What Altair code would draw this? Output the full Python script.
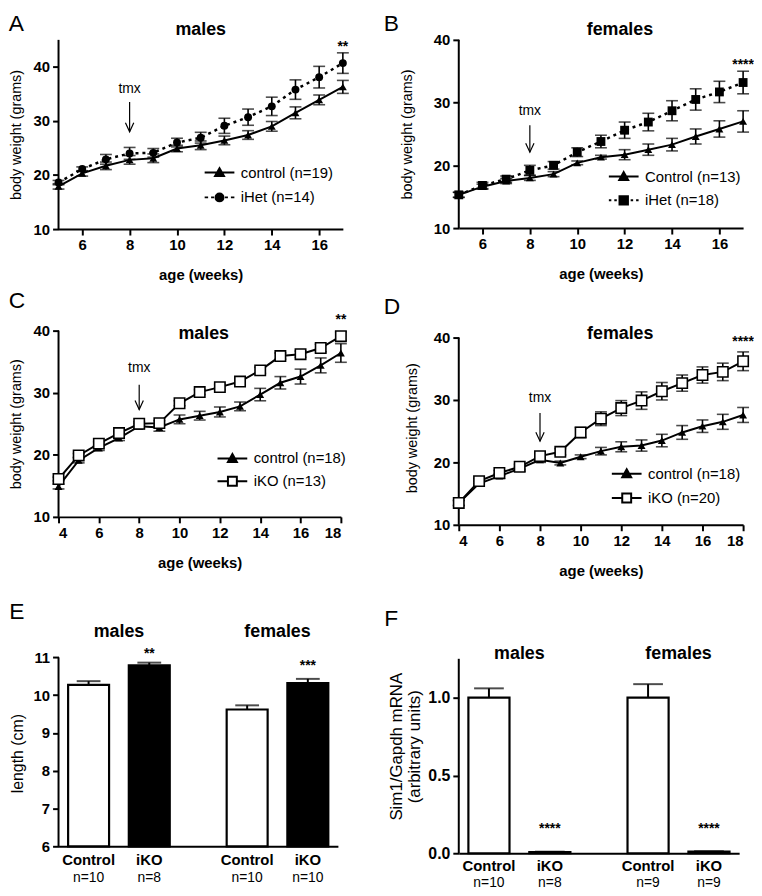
import altair as alt
import pandas as pd

FONT = "Liberation Sans"

# ---------------- Panel A : males, control vs iHet ----------------
A_WEEKS = list(range(5, 18))
A_CONTROL = [17.9, 20.3, 21.7, 22.8, 23.1, 24.9, 25.5, 26.4, 27.4, 29.0, 31.5, 33.9, 36.3]
A_CONTROL_SEM = [0.5, 0.5, 0.7, 0.8, 0.8, 0.6, 0.8, 0.8, 0.8, 0.9, 1.1, 0.9, 1.2]
A_IHET = [18.6, 21.1, 22.9, 24.0, 24.1, 26.0, 26.9, 29.1, 30.7, 32.7, 35.8, 38.1, 40.7]
A_IHET_SEM = [0.4, 0.4, 0.9, 1.1, 0.8, 0.8, 1.0, 1.4, 1.5, 1.7, 1.8, 2.0, 1.9]
A_GROUPS = ["control (n=19)", "iHet (n=14)"]

# ---------------- Panel B : females, control vs iHet ----------------
B_WEEKS = list(range(5, 18))
B_CONTROL = [15.3, 16.6, 17.5, 18.0, 18.6, 20.4, 21.3, 21.7, 22.5, 23.3, 24.6, 25.8, 27.0]
B_CONTROL_SEM = [0.4, 0.4, 0.4, 0.4, 0.4, 0.3, 0.3, 0.8, 0.9, 1.0, 1.2, 1.3, 1.7]
B_IHET = [15.3, 16.8, 17.8, 19.2, 20.0, 22.1, 23.8, 25.6, 26.9, 28.7, 30.5, 31.7, 33.2]
B_IHET_SEM = [0.4, 0.5, 0.5, 0.8, 0.6, 0.7, 1.0, 1.3, 1.4, 1.6, 1.7, 1.7, 1.8]
B_GROUPS = ["Control (n=13)", "iHet (n=18)"]

# ---------------- Panel C : males, control vs iKO ----------------
C_WEEKS = list(range(4, 19))
C_CONTROL = [14.9, 19.1, 21.1, 22.7, 24.6, 24.4, 25.7, 26.3, 26.9, 27.8, 29.7, 31.6, 32.6, 34.4, 36.4]
C_CONTROL_SEM = [0.4, 0.4, 0.4, 0.4, 0.4, 0.6, 0.7, 0.7, 0.8, 0.7, 1.0, 1.0, 1.2, 1.2, 1.5]
C_IKO = [16.1, 19.9, 21.8, 23.5, 25.0, 25.1, 28.3, 30.1, 30.9, 31.8, 33.6, 35.9, 36.2, 37.2, 39.1]
C_IKO_SEM = [0.3, 0.3, 0.3, 0.3, 0.3, 0.4, 0.4, 0.4, 0.4, 0.5, 0.5, 0.5, 0.5, 0.6, 0.7]
C_GROUPS = ["control (n=18)", "iKO (n=13)"]

# ---------------- Panel D : females, control vs iKO ----------------
D_WEEKS = list(range(4, 19))
D_CONTROL = [13.5, 16.6, 17.8, 19.0, 20.4, 19.9, 20.9, 21.8, 22.5, 22.7, 23.5, 24.8, 25.8, 26.5, 27.6]
D_CONTROL_SEM = [0.4, 0.4, 0.4, 0.4, 0.4, 0.3, 0.3, 0.6, 0.8, 0.9, 1.0, 1.1, 1.0, 1.2, 1.2]
D_IKO = [13.5, 17.0, 18.3, 19.3, 21.0, 21.7, 24.8, 27.0, 28.7, 29.9, 31.4, 32.7, 34.0, 34.5, 36.2]
D_IKO_SEM = [0.4, 0.4, 0.4, 0.4, 0.5, 0.5, 0.8, 1.1, 1.2, 1.4, 1.4, 1.3, 1.3, 1.4, 1.5]
D_GROUPS = ["control (n=18)", "iKO (n=20)"]

# ---------------- Panels E and F : bar charts ----------------
BAR_SEX = ["males", "males", "females", "females"]
BAR_GENO = ["Control", "iKO", "Control", "iKO"]
E_N = ["n=10", "n=8", "n=10", "n=10"]
E_LENGTH = [10.27, 10.79, 9.62, 10.32]
E_SEM = [0.10, 0.07, 0.11, 0.11]
E_STARS = ["", "**", "", "***"]
F_N = ["n=10", "n=8", "n=9", "n=9"]
F_MRNA = [1.0, 0.008, 1.0, 0.010]
F_SEM = [0.06, 0.002, 0.087, 0.003]
F_STARS = ["", "****", "", "****"]

# annotation placements (data coordinates)
E_STAR_Y = [0, 10.97, 0, 10.66]
F_STAR_Y = [0, 0.13, 0, 0.13]

# ---------------- glyphs ----------------
LEG_TRIANGLE = "M-3,0L3,0M0,-0.9L0.9,0.7L-0.9,0.7Z"
LEG_DASH_CIRCLE = ("M-3,0L-2.3,0M-1.7,0L-1.1,0M1.1,0L1.7,0M2.3,0L3,0"
                   "M0.8,0A0.8,0.8,0,1,1,-0.8,0A0.8,0.8,0,1,1,0.8,0Z")
LEG_DOT_SQUARE = ("M-3,0L-2.5,0M-1.9,0L-1.4,0M1.4,0L1.9,0M2.5,0L3,0"
                  "M-0.85,-0.85L0.85,-0.85L0.85,0.85L-0.85,0.85Z")
LEG_OPEN_SQUARE = "M-3,0L-0.9,0M0.9,0L3,0M-0.9,-0.9L0.9,-0.9L0.9,0.9L-0.9,0.9Z"
ARROW_HEAD = "M-0.6,-1.3L0,0L0.6,-1.3"


def series_frame(weeks, values, sems, group):
    return pd.DataFrame({
        "week": weeks,
        "value": values,
        "lo": [v - s for v, s in zip(values, sems)],
        "hi": [v + s for v, s in zip(values, sems)],
        "group": group,
    })


def letter_title(letter, dx, dy):
    return alt.Title(letter, anchor="start", frame="bounds", fontSize=23, fontWeight="normal",
                     font=FONT, color="black", baseline="alphabetic", offset=0, dx=dx, dy=dy)


def growth_panel(letter, ldx, ldy, weeks, ctrl, ctrl_sem, exp, exp_sem, groups,
                 exp_mark, exp_line, legend_paths, legend_fills, legend_box,
                 x_dom, x_ticks, y_dom, y_top, width, height, ytitle_pad,
                 title, title_at, stars, stars_at, tmx_at, arrow):
    d_ctrl = series_frame(weeks, ctrl, ctrl_sem, groups[0])
    d_exp = series_frame(weeks, exp, exp_sem, groups[1])

    x_axis = alt.Axis(values=x_ticks, title="age (weeks)", titlePadding=15)
    y_axis = alt.Axis(values=[10, 20, 30, 40], title="body weight (grams)", domain=False,
                      titlePadding=ytitle_pad)
    xs = alt.Scale(domain=x_dom, nice=False, zero=False)
    ys = alt.Scale(domain=y_dom, nice=False, zero=False)

    def X(f):
        return alt.X(f, type="quantitative", scale=xs, axis=x_axis)

    def Y(f):
        return alt.Y(f, type="quantitative", scale=ys, axis=y_axis)

    layers = []
    axis_df = pd.DataFrame({"week": [x_dom[0]], "value": [y_dom[0]], "top": [y_top]})
    layers.append(alt.Chart(axis_df).mark_rule(color="black", strokeWidth=2)
                  .encode(x=X("week"), y=Y("value"), y2="top"))
    layers.append(alt.Chart(d_ctrl).mark_line(color="black", strokeWidth=2)
                  .encode(x=X("week"), y=Y("value")))
    layers.append(alt.Chart(d_exp).mark_line(color="black", **exp_line)
                  .encode(x=X("week"), y=Y("value")))
    for d in (d_ctrl, d_exp):
        layers.append(alt.Chart(d).mark_rule(color="black", strokeWidth=1.6)
                      .encode(x=X("week"), y=Y("lo"), y2="hi"))
        for f in ("lo", "hi"):
            layers.append(alt.Chart(d).mark_tick(color="black", orient="horizontal", size=12,
                                                 thickness=1.6)
                          .encode(x=X("week"), y=Y(f)))
    layers.append(alt.Chart(d_ctrl).mark_point(shape="triangle-up", filled=True, color="black",
                                               size=64, opacity=1)
                  .encode(x=X("week"), y=Y("value")))
    layers.append(alt.Chart(d_exp).mark_point(opacity=1, **exp_mark)
                  .encode(x=X("week"), y=Y("value")))

    lx, ly, rp = legend_box
    leg = alt.Legend(title=None, orient="none", legendX=lx, legendY=ly, symbolSize=100,
                     symbolStrokeWidth=2, labelOffset=14, rowPadding=rp, padding=0,
                     labelFontSize=15, labelFont=FONT, labelColor="black",
                     symbolFillColor="black", symbolStrokeColor="black")
    leg_df = pd.DataFrame({"week": [x_dom[0]] * 2, "value": [y_dom[0]] * 2, "group": groups})
    layers.append(alt.Chart(leg_df).mark_point(size=0, filled=True, stroke="black", strokeWidth=2,
                                               opacity=1)
                  .encode(x=X("week"), y=Y("value"),
                          shape=alt.Shape("group:N", scale=alt.Scale(domain=groups, range=legend_paths),
                                          legend=leg),
                          fill=alt.Fill("group:N", scale=alt.Scale(domain=groups, range=legend_fills),
                                        legend=leg)))

    title_df = pd.DataFrame({"week": [title_at[0]], "value": [title_at[1]], "t": [title]})
    layers.append(alt.Chart(title_df).mark_text(font=FONT, fontSize=18, fontWeight="bold",
                                                color="black", baseline="middle")
                  .encode(x=X("week"), y=Y("value"), text="t:N"))
    star_df = pd.DataFrame({"week": [stars_at[0]], "value": [stars_at[1]], "t": [stars]})
    layers.append(alt.Chart(star_df).mark_text(font=FONT, fontSize=14, fontWeight="bold",
                                               color="black", baseline="alphabetic")
                  .encode(x=X("week"), y=Y("value"), text="t:N"))
    tmx_df = pd.DataFrame({"week": [tmx_at[0]], "value": [tmx_at[1]], "t": ["tmx"]})
    layers.append(alt.Chart(tmx_df).mark_text(font=FONT, fontSize=14, color="black",
                                              baseline="middle")
                  .encode(x=X("week"), y=Y("value"), text="t:N"))
    arrow_df = pd.DataFrame({"week": [tmx_at[0]], "value": [arrow[1]], "top": [arrow[0]]})
    layers.append(alt.Chart(arrow_df).mark_rule(color="black", strokeWidth=1.2)
                  .encode(x=X("week"), y=Y("value"), y2="top"))
    layers.append(alt.Chart(arrow_df).mark_point(shape=ARROW_HEAD, size=196, filled=False,
                                                 color="black", strokeWidth=1.2, opacity=1)
                  .encode(x=X("week"), y=Y("value")))

    return alt.layer(*layers).properties(width=width, height=height,
                                         title=letter_title(letter, ldx, ldy))


def bar_panel(letter, ldx, ldy, values, sems, n_labels, stars, star_y, y_dom, y_top, y_ticks,
              y_fmt, y_title, y_title_size, y_label_size, ytitle_pad, ytitle_y, width, height,
              cap, title_y, geno_y, n_y):
    df = pd.DataFrame({
        "sex": BAR_SEX, "geno": BAR_GENO, "value": values,
        "hi": [v + s for v, s in zip(values, sems)],
        "base": [y_dom[0]] * 4,
    })
    xs = alt.X("sex:N", scale=alt.Scale(domain=["males", "females"], paddingInner=0.238,
                                        paddingOuter=0),
               axis=alt.Axis(labels=False, ticks=False, title=None, domain=True))
    xo = alt.XOffset("geno:N", scale=alt.Scale(domain=["Control", "iKO"], paddingInner=0.325,
                                               paddingOuter=0.158))
    y_axis = alt.Axis(values=y_ticks, format=y_fmt, title=y_title, domain=False,
                      titleFontSize=y_title_size, labelFontSize=y_label_size,
                      titlePadding=ytitle_pad, titleY=ytitle_y, titleLineHeight=19)
    ys = alt.Scale(domain=y_dom, nice=False, zero=False)

    def Y(f):
        return alt.Y(f, type="quantitative", scale=ys, axis=y_axis)

    layers = []
    axis_df = pd.DataFrame({"value": [y_dom[0]], "top": [y_top]})
    layers.append(alt.Chart(axis_df).mark_rule(color="black", strokeWidth=2)
                  .encode(x=alt.value(0), y=Y("value"), y2="top"))
    layers.append(alt.Chart(df).mark_rule(color="black", strokeWidth=2)
                  .encode(x=xs, xOffset=xo, y=Y("value"), y2="hi"))
    layers.append(alt.Chart(df).mark_tick(color="black", orient="horizontal", size=cap,
                                          thickness=2)
                  .encode(x=xs, xOffset=xo, y=Y("hi")))
    layers.append(alt.Chart(df).mark_bar(stroke="black", strokeWidth=2.2)
                  .encode(x=xs, xOffset=xo, y=Y("value"), y2="base",
                          fill=alt.Fill("geno:N", scale=alt.Scale(domain=["Control", "iKO"],
                                                                  range=["white", "black"]),
                                        legend=None)))
    star_df = pd.DataFrame({"sex": BAR_SEX, "geno": BAR_GENO, "value": star_y, "t": stars})
    layers.append(alt.Chart(star_df).transform_filter("datum.t != ''")
                  .mark_text(font=FONT, fontSize=14, fontWeight="bold", color="black",
                             baseline="alphabetic")
                  .encode(x=xs, xOffset=xo, y=Y("value"), text="t:N"))
    head_df = pd.DataFrame({"sex": ["males", "females"], "value": [title_y] * 2,
                            "t": ["males", "females"]})
    layers.append(alt.Chart(head_df).mark_text(font=FONT, fontSize=18, fontWeight="bold",
                                               color="black", baseline="middle")
                  .encode(x=xs, y=Y("value"), text="t:N"))
    geno_df = pd.DataFrame({"sex": BAR_SEX, "geno": BAR_GENO, "value": [geno_y] * 4,
                            "t": BAR_GENO})
    layers.append(alt.Chart(geno_df).mark_text(font=FONT, fontSize=15, fontWeight="bold",
                                               color="black", baseline="middle")
                  .encode(x=xs, xOffset=xo, y=Y("value"), text="t:N"))
    n_df = pd.DataFrame({"sex": BAR_SEX, "geno": BAR_GENO, "value": [n_y] * 4, "t": n_labels})
    layers.append(alt.Chart(n_df).mark_text(font=FONT, fontSize=14, color="black",
                                            baseline="middle")
                  .encode(x=xs, xOffset=xo, y=Y("value"), text="t:N"))
    return alt.layer(*layers).properties(width=width, height=height,
                                         title=letter_title(letter, ldx, ldy))


panel_a = growth_panel(
    "A", 0, 33, A_WEEKS, A_CONTROL, A_CONTROL_SEM, A_IHET, A_IHET_SEM, A_GROUPS,
    dict(shape="circle", filled=True, color="black", size=64),
    dict(strokeWidth=2.5, strokeDash=[3, 4]),
    [LEG_TRIANGLE, LEG_DASH_CIRCLE], ["black", "black"], (155, 126.5, 8),
    [5, 17], [6, 8, 10, 12, 14, 16], [10, 45], 45, 287, 191, 9.5,
    "males", (11, 46.8), "**", (17, 43.0), (8, 35.85), (33.5, 28.0))

panel_b = growth_panel(
    "B", -16, 33, B_WEEKS, B_CONTROL, B_CONTROL_SEM, B_IHET, B_IHET_SEM, B_GROUPS,
    dict(shape="square", filled=True, color="black", size=80),
    dict(strokeWidth=2.5, strokeDash=[3, 4]),
    [LEG_TRIANGLE, LEG_DOT_SQUARE], ["black", "black"], (159, 130.5, 7),
    [5, 17], [6, 8, 10, 12, 14, 16], [10, 40], 40, 287, 190, 19,
    "females", (11.8, 41.6), "****", (17, 35.3), (8, 28.7), (26.4, 22.1))

panel_c = growth_panel(
    "C", 0, 18, C_WEEKS, C_CONTROL, C_CONTROL_SEM, C_IKO, C_IKO_SEM, C_GROUPS,
    dict(shape="square", filled=True, fill="white", stroke="black", strokeWidth=1.6, size=110),
    dict(strokeWidth=2),
    [LEG_TRIANGLE, LEG_OPEN_SQUARE], ["black", "white"], (168, 121.5, 6),
    [4, 18], [4, 6, 8, 10, 12, 14, 16, 18], [10, 40], 40, 285, 188, 9.5,
    "males", (11.2, 39.5), "**", (18, 41.1), (8, 33.9), (31.3, 27.3))

panel_d = growth_panel(
    "D", -21, 12, D_WEEKS, D_CONTROL, D_CONTROL_SEM, D_IKO, D_IKO_SEM, D_GROUPS,
    dict(shape="square", filled=True, fill="white", stroke="black", strokeWidth=1.6, size=110),
    dict(strokeWidth=2),
    [LEG_TRIANGLE, LEG_OPEN_SQUARE], ["black", "white"], (162, 137, 7.5),
    [4, 18], [4, 6, 8, 10, 12, 14, 16, 18], [10, 41.11], 40, 287, 196, 14,
    "females", (11.95, 40.6), "****", (18, 38.6), (8, 30.3), (27.9, 23.4))

panel_e = bar_panel(
    "E", 0, 18, E_LENGTH, E_SEM, E_N, E_STARS, E_STAR_Y, [6, 11.82], 11,
    [6, 7, 8, 9, 10, 11], "d", "length (cm)", 16, 15, 8, 128, 282, 222, 24,
    11.66, 5.63, 5.15)

panel_f = bar_panel(
    "F", -3, 23, F_MRNA, F_SEM, F_N, F_STARS, F_STAR_Y, [0, 1.4586], 1.25,
    [0, 0.5, 1.0], ".1f", ["Sim1/Gapdh mRNA", "(arbitrary units)"], 17, 16, 4, 121, 283, 229, 30,
    1.28, -0.083, -0.19)

chart = alt.concat(
    panel_a, panel_b, panel_c, panel_d, panel_e, panel_f,
    columns=2, spacing={"row": 102.5, "column": 117}, bounds="flush",
).resolve_scale(
    shape="independent", fill="independent", xOffset="independent",
).properties(padding=0).configure_view(stroke=None).configure_axis(
    domainColor="black", domainWidth=2, tickColor="black", tickWidth=2, tickSize=6,
    labelFont=FONT, labelFontSize=15, labelFontWeight="bold", labelColor="black",
    labelPadding=3, titleFont=FONT, titleColor="black", grid=False,
).configure_axisX(titleFontSize=15, titleFontWeight="bold").configure_axisY(
    titleFontSize=14.5, titleFontWeight="normal",
).configure_legend(labelFont=FONT, labelColor="black", labelFontSize=15)

chart.save("out.html", embed_options={"renderer": "svg", "actions": False})
